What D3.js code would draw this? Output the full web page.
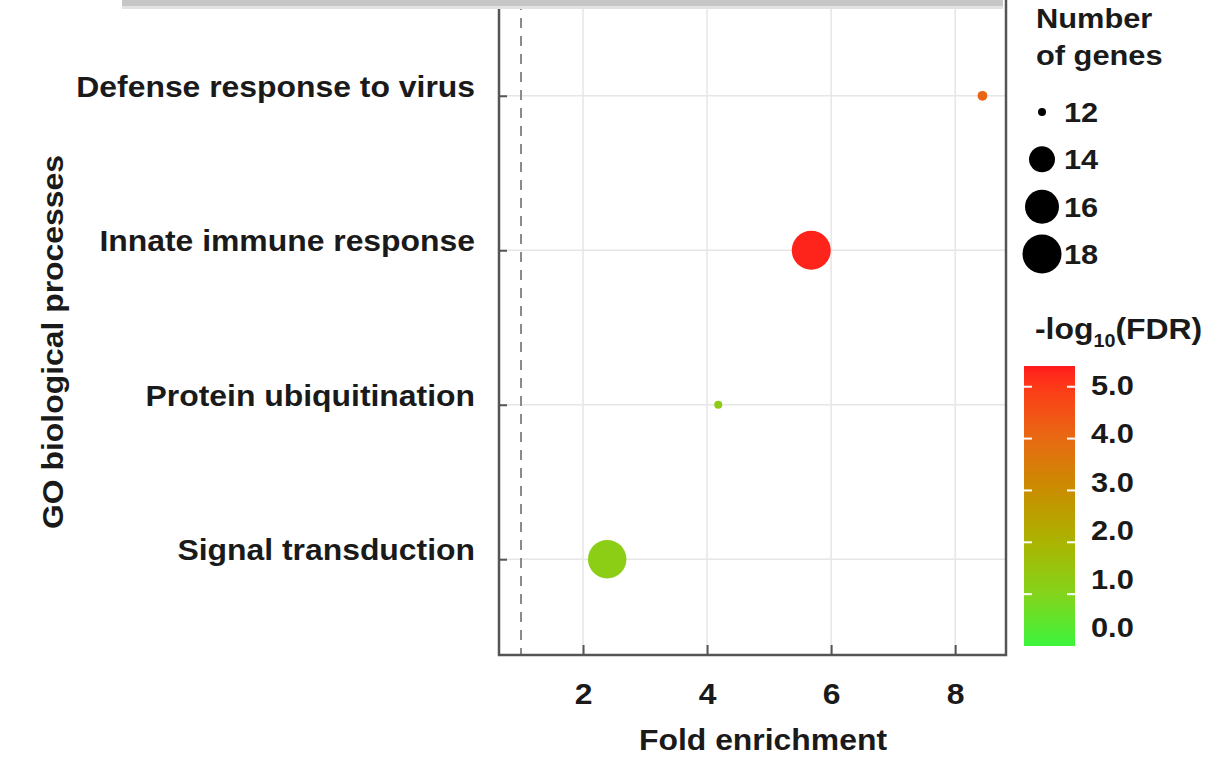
<!DOCTYPE html>
<html>
<head>
<meta charset="utf-8">
<script src="https://cdn.jsdelivr.net/npm/d3@7"></script>
<style>
  body { margin: 0; background: #fff; }
  svg { display: block; font-family: "Liberation Sans", Arial, sans-serif; font-weight: bold; }
</style>
</head>
<body>
<svg id="chart"></svg>
<script>
// data
const processes = ["Defense response to virus", "Innate immune response", "Protein ubiquitination", "Signal transduction"];
const foldEnrichment = [8.44, 5.68, 4.18, 2.39];
const geneCounts = [12.2, 18, 12, 17.8];
const negLogFdr = [4.1, 5.3, 1.3, 1.2];

const xTicks = [2, 4, 6, 8];
const sizeLegend = [12, 14, 16, 18];
const colorTicks = [5, 4, 3, 2, 1, 0];

const W = 1213, H = 761;
const plot = { left: 499, right: 1006, top: 0, bottom: 655 };
const ink = "#1a1a1a";
const stretch = 1.1;  // the original lettering is a bit wider than Arial

const svg = d3.select("#chart").attr("width", W).attr("height", H);
svg.append("rect").attr("width", W).attr("height", H).attr("fill", "#fff");

// text placed at (x,y), widened along its own baseline
function label(g, x, y, str, size, anchor, rot) {
  return g.append("text")
    .attr("transform", `translate(${x},${y})${rot ? ` rotate(${rot})` : ""} scale(${stretch},1)`)
    .attr("text-anchor", anchor || "start")
    .attr("font-size", size)
    .attr("fill", ink)
    .text(str);
}

const x = d3.scaleLinear().domain([0.645, 8.82]).range([plot.left, plot.right]);
const y = d3.scalePoint().domain(processes).range([plot.top, plot.bottom]).padding(0.62);
const r = d3.scaleLinear().domain([12, 14, 16, 18]).range([4, 13, 17, 19.5]);
const color = d3.scaleLinear()
  .domain([0, 1, 2, 3, 4, 5, 5.4])
  .range(["#3cf53c", "#84d41c", "#aab400", "#c98e00", "#e86a12", "#fd3a18", "#ff1c1c"]);

// grid
svg.append("g")
  .selectAll("line")
  .data(xTicks)
  .join("line")
  .attr("x1", d => x(d)).attr("x2", d => x(d))
  .attr("y1", plot.top).attr("y2", plot.bottom)
  .attr("stroke", "#e6e6e6").attr("stroke-width", 1.5);
svg.append("g")
  .selectAll("line")
  .data(processes)
  .join("line")
  .attr("x1", plot.left).attr("x2", plot.right)
  .attr("y1", d => y(d)).attr("y2", d => y(d))
  .attr("stroke", "#e6e6e6").attr("stroke-width", 1.5);

// reference line at fold enrichment = 1
svg.append("line")
  .attr("x1", x(1)).attr("x2", x(1))
  .attr("y1", plot.top).attr("y2", plot.bottom)
  .attr("stroke", "#8a8a8a").attr("stroke-width", 2)
  .attr("stroke-dasharray", "10,8");

// axes
const xAxis = g => g
  .attr("transform", `translate(0,${plot.bottom})`)
  .call(d3.axisBottom(x).tickValues(xTicks).tickSizeInner(-10).tickSizeOuter(0).tickPadding(28))
  .call(g => g.select(".domain").remove())
  .call(g => g.selectAll(".tick line").attr("stroke", "#555").attr("stroke-width", 2))
  .call(g => g.selectAll("text").attr("fill", ink).attr("font-size", 29)
    .attr("transform", `scale(${stretch},1)`)
    .attr("font-family", "Liberation Sans, Arial, sans-serif").attr("font-weight", "bold"));
const yAxis = g => g
  .attr("transform", `translate(${plot.left},0)`)
  .call(d3.axisLeft(y).tickSizeInner(-8).tickSizeOuter(0).tickFormat(""))
  .call(g => g.select(".domain").remove())
  .call(g => g.selectAll(".tick line").attr("stroke", "#555").attr("stroke-width", 2));
svg.append("g").call(xAxis);
svg.append("g").call(yAxis);

// frame: left, bottom, right
svg.append("path")
  .attr("d", `M${plot.left},${plot.top}V${plot.bottom}H${plot.right}V${plot.top}`)
  .attr("stroke", "#555").attr("stroke-width", 2.5).attr("fill", "none");

// category labels
const catG = svg.append("g");
processes.forEach(p => label(catG, 475, y(p) - 9, p, 29, "end").attr("dy", "0.35em"));

// bubbles
const points = processes.map((p, i) => ({ p, fe: foldEnrichment[i], n: geneCounts[i], c: negLogFdr[i] }));
svg.append("g")
  .selectAll("circle")
  .data(points)
  .join("circle")
  .attr("cx", d => x(d.fe))
  .attr("cy", d => y(d.p))
  .attr("r", d => r(d.n))
  .attr("fill", d => color(d.c));

// axis titles
label(svg, 763, 750, "Fold enrichment", 29, "middle");
label(svg, 63, 342, "GO biological processes", 29, "middle", -90);

// gray strip at the top edge
svg.append("rect").attr("x", 122).attr("y", 0).attr("width", 881).attr("height", 9).attr("fill", "#e2e2e2");
svg.append("rect").attr("x", 122).attr("y", 0).attr("width", 881).attr("height", 6).attr("fill", "#c6c6c6");

// size legend
const sl = svg.append("g");
label(sl, 1036, 28, "Number", 28);
label(sl, 1036, 65, "of genes", 28);
const sy = d3.scalePoint().domain(sizeLegend).range([112, 254]);
sl.selectAll("circle")
  .data(sizeLegend)
  .join("circle")
  .attr("cx", 1042)
  .attr("cy", d => sy(d))
  .attr("r", d => r(d))
  .attr("fill", "#000");
sizeLegend.forEach(d => label(sl, 1064, sy(d), d, 28).attr("dy", "0.36em"));

// colour legend
const cl = svg.append("g");
const title = label(cl, 1035, 339, "", 29);
title.append("tspan").text("-log");
title.append("tspan").attr("font-size", 18).attr("dy", 8).text("10");
title.append("tspan").attr("dy", -8).text("(FDR)");

const barX = 1024, barW = 51;
const cy = d3.scaleLinear().domain([0, 5.4]).range([646, 366]);
const grad = svg.append("defs").append("linearGradient")
  .attr("id", "fdr").attr("x1", 0).attr("y1", 1).attr("x2", 0).attr("y2", 0);
grad.selectAll("stop")
  .data(color.domain())
  .join("stop")
  .attr("offset", d => d / 5.4)
  .attr("stop-color", d => color(d));
cl.append("rect")
  .attr("x", barX).attr("y", cy(5.4))
  .attr("width", barW).attr("height", cy(0) - cy(5.4))
  .attr("fill", "url(#fdr)");
const tickVals = colorTicks.filter(d => d > 0);
cl.selectAll("line.l")
  .data(tickVals)
  .join("line")
  .attr("class", "l")
  .attr("x1", barX).attr("x2", barX + 8)
  .attr("y1", d => cy(d)).attr("y2", d => cy(d))
  .attr("stroke", "#fff").attr("stroke-width", 2);
cl.selectAll("line.r")
  .data(tickVals)
  .join("line")
  .attr("class", "r")
  .attr("x1", barX + barW - 8).attr("x2", barX + barW)
  .attr("y1", d => cy(d)).attr("y2", d => cy(d))
  .attr("stroke", "#fff").attr("stroke-width", 2);
const labelY = d3.scaleLinear().domain([0, 5]).range([627, 385]);
colorTicks.forEach(d => label(cl, 1091, labelY(d), d.toFixed(1), 28).attr("dy", "0.36em"));
</script>
</body>
</html>
